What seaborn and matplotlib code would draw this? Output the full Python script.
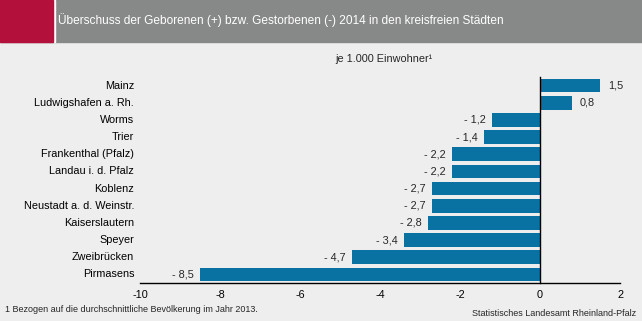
import matplotlib
matplotlib.use("Agg")
import matplotlib.pyplot as plt
import matplotlib.patches as mpatches
import matplotlib.transforms as mtransforms
import seaborn as sns
import pandas as pd

# Natural population balance per 1,000 inhabitants, 2014
cities = [
    "Mainz", "Ludwigshafen a. Rh.", "Worms", "Trier", "Frankenthal (Pfalz)",
    "Landau i. d. Pfalz", "Koblenz", "Neustadt a. d. Weinstr.", "Kaiserslautern",
    "Speyer", "Zweibrücken", "Pirmasens",
]
balance = [1.5, 0.8, -1.2, -1.4, -2.2, -2.2, -2.7, -2.7, -2.8, -3.4, -4.7, -8.5]
x_ticks = [-10, -8, -6, -4, -2, 0, 2]

title = "Überschuss der Geborenen (+) bzw. Gestorbenen (-) 2014 in den kreisfreien Städten"
unit = "je 1.000 Einwohner¹"
footnote = "1 Bezogen auf die durchschnittliche Bevölkerung im Jahr 2013."
source = "Statistisches Landesamt Rheinland-Pfalz"

BG = "#EDEEED"
BAR = "#0A72A2"
HEADER_GRAY = "#878888"
HEADER_RED = "#B4103C"

sns.set_theme(style="white")
plt.rcParams["font.family"] = ["Liberation Sans", "DejaVu Sans"]

df = pd.DataFrame({"city": cities, "value": balance})

fig = plt.figure(figsize=(6.42, 3.21), dpi=100, facecolor=BG)
W, H = 642, 321

# header band
fig.patches.append(mpatches.Rectangle((0, 1 - 42 / H), 1, 42 / H,
                                      transform=fig.transFigure, color=HEADER_GRAY, zorder=0))
fig.patches.append(mpatches.Rectangle((53 / W, 1 - 42 / H), 2 / W, 42 / H,
                                      transform=fig.transFigure, color="white", zorder=1))
fig.patches.append(mpatches.Rectangle((0, 1 - 42 / H), 53 / W, 42 / H,
                                      transform=fig.transFigure, color=HEADER_RED, zorder=1))
fig.text(58 / W, 1 - 20 / H, title, color="white", fontsize=8.6, va="center", ha="left")

left, right = 140 / W, 620 / W
bottom, top = 1 - 283 / H, 1 - 77 / H
ax = fig.add_axes([left, bottom, right - left, top - bottom])
ax.set_facecolor(BG)

sns.barplot(data=df, x="value", y="city", orient="h", color=BAR,
            width=0.8, saturation=1, ax=ax, linewidth=0)

ax.set_xlim(-10, 2)
ax.set_ylim(len(cities) - 0.5, -0.5)
ax.set_xticks(x_ticks)
ax.set_xticklabels([str(t) for t in x_ticks], fontsize=7.8)
ax.set_xlabel("")
ax.set_ylabel("")

# y-axis sits on zero with ticks at category boundaries
ax.spines["left"].set_position(("data", 0))
for s in ["top", "right"]:
    ax.spines[s].set_visible(False)
for s in ["left", "bottom"]:
    ax.spines[s].set_color("black")
    ax.spines[s].set_linewidth(1.0)
ax.set_yticks([i - 0.5 for i in range(len(cities) + 1)])
ax.set_yticklabels([])
ax.tick_params(axis="y", direction="inout", length=5, width=1, color="black")
ax.tick_params(axis="x", direction="out", length=3.5, width=1, color="black",
               pad=1.5, labelcolor="black")

# category labels at the left edge
trans = mtransforms.blended_transform_factory(ax.transAxes, ax.transData)
for i, c in enumerate(cities):
    ax.text(-0.012, i, c, transform=trans, ha="right", va="center", fontsize=7.8,
            color="black")

# value labels
for i, v in enumerate(balance):
    txt = f"{abs(v):.1f}".replace(".", ",")
    if v < 0:
        ax.text(v - 0.15, i, "- " + txt, ha="right", va="center", fontsize=7.8)
    else:
        ax.text(v + 0.2, i, txt, ha="left", va="center", fontsize=7.8)

fig.text(384 / W, 1 - 59 / H, unit, fontsize=7.8, ha="center", va="center")
fig.text(5 / W, 1 - 309 / H, footnote, fontsize=6.5, ha="left", va="center")
fig.text(636 / W, 1 - 313 / H, source, fontsize=6.5, ha="right", va="center")

fig.savefig("out.png", dpi=100, facecolor=BG)
